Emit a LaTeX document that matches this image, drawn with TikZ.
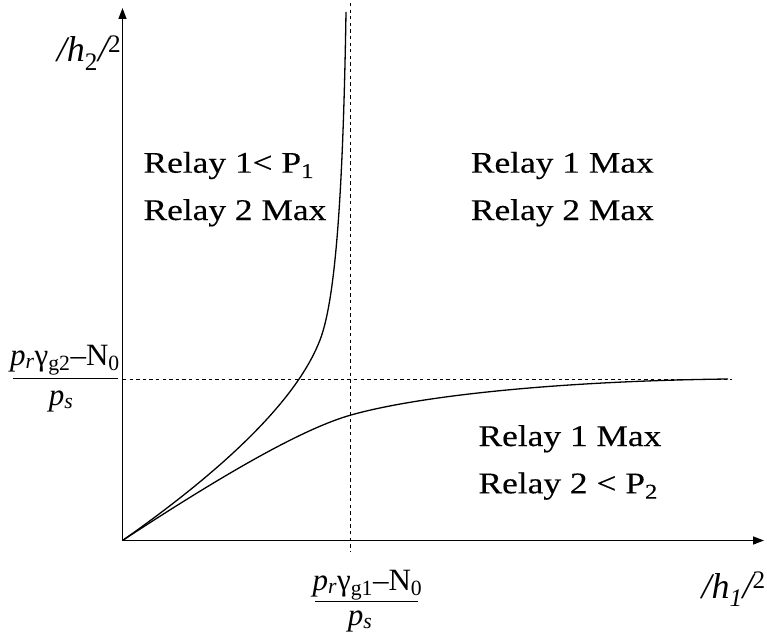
\documentclass[tikz,border=0pt]{standalone}
\usepackage{fontspec}
\setmainfont[FakeStretch=1.18,FakeBold=0.3]{Liberation Serif}
\newfontfamily\axfont{Liberation Serif}
\usetikzlibrary{arrows.meta}
\begin{document}
\begin{tikzpicture}[x=1pt,y=-1pt,
  axis/.style={line width=1.4pt,-{Triangle[length=11pt,width=8pt]}},
  guide/.style={line width=1pt,dash pattern=on 3.3pt off 3.3pt},
  curve/.style={line width=1.3pt},
  lab/.style={font=\fontsize{30}{36}\selectfont, inner sep=0pt, anchor=base west},
  axlab/.style={font=\axfont\fontsize{36}{42}\selectfont\itshape, inner sep=0pt},
  frac/.style={font=\axfont\fontsize{31}{37}\selectfont, inner sep=0pt, anchor=base},
  fbar/.style={line width=1.5pt}]
\useasboundingbox (0,0) rectangle (767,642);
% axes
\coordinate (O) at (122.5,540.5);
\coordinate (ytip) at (122.5,8);
\coordinate (xtip) at (764,540.5);
\draw[axis] (O) -- (ytip);
\draw[axis] (O) -- (xtip);
% guide lines
\coordinate (vtop) at (350.7,3);
\coordinate (vbot) at (350.7,551);
\coordinate (hl) at (123,379);
\coordinate (hr) at (732,379);
\draw[guide] (vtop) -- (vbot);
\draw[guide] (hl) -- (hr);
% curves
\coordinate (u1) at (320,340);
\coordinate (u2) at (346,12);
\draw[curve] (O) .. controls (240,458) and (300,392) .. (u1)
             .. controls (335,301) and (343,200) .. (u2);
\coordinate (l1) at (351,415);
\coordinate (l2) at (728,379);
\draw[curve] (O) .. controls (230,470) and (305,428) .. (l1)
             .. controls (420,395.5) and (560,381) .. (l2);
% region labels
\node[lab] (r1a) at (143.3,172.7) {Relay 1< P\textsubscript{1}};
\node[lab] (r1b) at (143.3,220) {Relay 2 Max};
\node[lab] (r2a) at (470.7,172.7) {Relay 1 Max};
\node[lab] (r2b) at (470.7,220) {Relay 2 Max};
\node[lab] (r3a) at (478.3,446) {Relay 1 Max};
\node[lab] (r3b) at (478.3,493.3) {Relay 2 < P\textsubscript{2}};
% axis labels
\node[axlab,anchor=base west] (ylab) at (56.7,62) {/h\textsubscript{\upshape 2}/\textsuperscript{\upshape 2}};
\node[axlab,anchor=base east] (xlab) at (766,598) {/h\textsubscript{1}/\textsuperscript{\upshape 2}};
% y fraction
\node[frac] (ynum) at (65,365) {\textit{p}\textsubscript{\textit{r}}γ\textsubscript{g2}–N\textsubscript{0}};
\coordinate (ybl) at (13.3,378.5);
\coordinate (ybr) at (118.3,378.5);
\draw[fbar] (ybl) -- (ybr);
\node[frac] (yden) at (61,405) {\textit{p}\textsubscript{\textit{s}}};
% x fraction
\node[frac] (xnum) at (367.5,590) {\textit{p}\textsubscript{\textit{r}}γ\textsubscript{g1}–N\textsubscript{0}};
\coordinate (xbl) at (315,601.7);
\coordinate (xbr) at (418.3,601.7);
\draw[fbar] (xbl) -- (xbr);
\node[frac] (xden) at (360,625) {\textit{p}\textsubscript{\textit{s}}};
\end{tikzpicture}
\end{document}
